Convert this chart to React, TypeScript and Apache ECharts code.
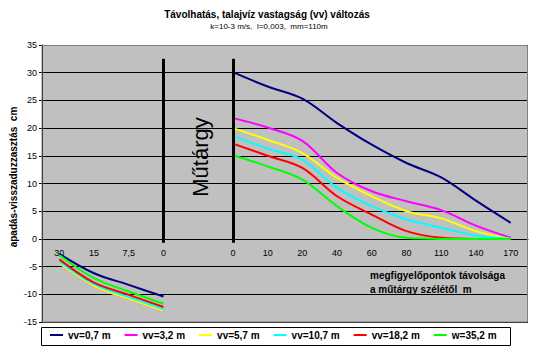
import React, { useEffect, useRef } from "react";
import * as echarts from "echarts";

const categories = ["30", "15", "7,5", "0", "", "0", "10", "20", "40", "60", "80", "110", "140", "170"];
const seriesNames = ["vv=0,7 m", "vv=3,2 m", "vv=5,7 m", "vv=10,7 m", "vv=18,2 m", "w=35,2 m"];
const seriesColors = ["#000080", "#FF00FF", "#FFFF00", "#00FFFF", "#FF0000", "#00FF00"];
const vv07 = [-2.7, -6.2, -8.3, -10.4, null, 30.1, 27.5, 25.3, 20.9, 17.0, 13.7, 11.1, 6.9, 2.9];
const vv32 = [-4.4, -8.5, -10.8, -13.0, null, 21.8, 20.1, 17.7, 11.9, 8.6, 6.8, 5.2, 2.4, 0.2];
const vv57 = [-4.4, -8.5, -10.8, -13.0, null, 20.0, 17.9, 15.5, 11.0, 7.7, 5.0, 3.7, 1.4, 0];
const vv107 = [-4.1, -8.2, -10.5, -12.7, null, 18.6, 16.3, 14.3, 9.2, 5.9, 3.5, 2.0, 0.6, 0];
const vv182 = [-3.7, -7.9, -10.1, -12.3, null, 17.2, 15.0, 12.8, 7.7, 4.4, 1.4, 0.2, 0, 0];
const vv352 = [-2.9, -7.1, -9.5, -11.7, null, 15.1, 13.1, 10.7, 5.9, 2.0, 0.2, 0, 0, 0];
const seriesValues = [vv07, vv32, vv57, vv107, vv182, vv352];
const yTicks = { min: -15, max: 35, interval: 5 };
const separators = [3, 5];
const separatorRange = [32.5, -0.7];

const FONT = "'Liberation Sans', Arial, sans-serif";

export default function App() {
  const ref = useRef<HTMLDivElement>(null);
  useEffect(() => {
    if (!ref.current) return;
    const chart = echarts.init(ref.current, null, { renderer: "svg" });
    const series: any[] = seriesNames.map((name, i) => ({
      name,
      type: "line",
      data: seriesValues[i],
      smooth: 0.35,
      showSymbol: false,
      symbol: "none",
      connectNulls: false,
      lineStyle: { color: seriesColors[i], width: 2 },
      itemStyle: { color: seriesColors[i] },
      z: 3,
    }));
    series[0].markLine = {
      silent: true,
      symbol: "none",
      label: { show: false },
      lineStyle: { color: "#000", width: 3, type: "solid" },
      data: separators.map((idx) => [
        { coord: [idx, separatorRange[0]] },
        { coord: [idx, separatorRange[1]] },
      ]),
    };
    chart.setOption({
      animation: false,
      backgroundColor: "#fff",
      textStyle: { fontFamily: FONT },
      grid: {
        left: 42,
        top: 45,
        right: 10,
        bottom: 30,
        show: false,
      },
      legend: {
        data: seriesNames,
        left: 50,
        top: 330,
        padding: 0,
        itemGap: 14,
        itemWidth: 13,
        itemHeight: 2,
        icon: "rect",
        textStyle: { fontFamily: FONT, fontSize: 10, fontWeight: "bold", color: "#000" },
      },
      xAxis: {
        type: "category",
        data: categories,
        boundaryGap: true,
        position: "bottom",
        offset: -83,
        axisLine: { onZero: false, lineStyle: { color: "#000", width: 1 } },
        axisTick: { show: false },
        axisLabel: { interval: 0, fontSize: 9, color: "#000", margin: 9, fontFamily: FONT },
        splitLine: { show: false },
      },
      yAxis: {
        type: "value",
        min: yTicks.min,
        max: yTicks.max,
        interval: yTicks.interval,
        axisLine: { show: true, lineStyle: { color: "#000" } },
        axisTick: { show: true, length: 3, lineStyle: { color: "#000" } },
        axisLabel: { fontSize: 9, color: "#000", margin: 5, fontFamily: FONT },
        splitLine: { show: true, lineStyle: { color: "#000", width: 1 } },
      },
      graphic: [
        {
          type: "rect",
          z: -10,
          shape: { x: 42, y: 45, width: 486, height: 277 },
          style: { fill: "#C0C0C0", stroke: "none" },
        },
        {
          type: "rect",
          z: 0,
          shape: { x: 41.5, y: 327.5, width: 469, height: 18 },
          style: { fill: "#fff", stroke: "#000", lineWidth: 1 },
        },
        {
          type: "rect",
          z: 100,
          shape: { x: 42, y: 45.5, width: 485.5, height: 276.5 },
          style: { fill: "none", stroke: "#808080", lineWidth: 1 },
        },
        {
          type: "text",
          z: 100,
          x: 267,
          y: 14,
          style: {
            text: "Távolhatás, talajvíz vastagság (vv) változás",
            font: `bold 10px ${FONT}`,
            fill: "#000",
            align: "center",
            verticalAlign: "middle",
          },
        },
        {
          type: "text",
          z: 100,
          x: 269,
          y: 26,
          style: {
            text: "k=10-3 m/s,  I=0,003,  mm=110m",
            font: `8px ${FONT}`,
            fill: "#000",
            align: "center",
            verticalAlign: "middle",
          },
        },
        {
          type: "text",
          z: 100,
          x: 13,
          y: 177,
          rotation: Math.PI / 2,
          style: {
            text: "apadás-visszaduzzasztás  cm",
            font: `bold 10px ${FONT}`,
            fill: "#000",
            align: "center",
            verticalAlign: "middle",
          },
        },
        {
          type: "text",
          z: 100,
          x: 200,
          y: 157,
          rotation: Math.PI / 2,
          style: {
            text: "Műtárgy",
            font: `22px ${FONT}`,
            fill: "#000",
            align: "center",
            verticalAlign: "middle",
          },
        },
        {
          type: "text",
          z: 100,
          x: 370,
          y: 268,
          style: {
            text: "megfigyelőpontok távolsága\na műtárgy szélétől  m",
            font: `bold 10px ${FONT}`,
            lineHeight: 14,
            fill: "#000",
            align: "left",
            verticalAlign: "top",
          },
        },
      ],
      series,
    });
    return () => chart.dispose();
  }, []);
  return <div ref={ref} style={{ position: "absolute", left: 0, top: 0, width: 538, height: 352 }} />;
}
